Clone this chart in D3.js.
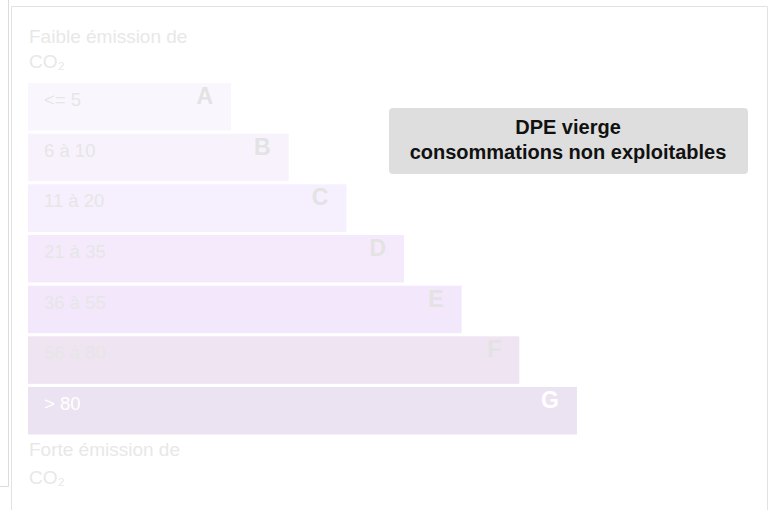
<!DOCTYPE html>
<html>
<head>
<meta charset="utf-8">
<script src="https://cdn.jsdelivr.net/npm/d3@7"></script>
<style>
  body { margin: 0; background: #fff; }
  svg { display: block; font-family: "Liberation Sans", Arial, Helvetica, sans-serif; }
</style>
</head>
<body>
<div id="chart-container"></div>
<script>
// GES classes (faded: DPE vierge)
const classes = ['A', 'B', 'C', 'D', 'E', 'F', 'G'];
const ranges = ['<= 5', '6 à 10', '11 à 20', '21 à 35', '36 à 55', '56 à 80', '> 80'];
const barRank = [1, 2, 3, 4, 5, 6, 7];
const barColors = ['#faf6fe', '#f8f2fd', '#f6effd', '#f5eafc', '#f3e7fc', '#efe4f2', '#ebe3f1'];
const labelColors = ['#e6e6e6', '#e6e6e6', '#e6e6e6', '#e6e6e6', '#e6e6e6', '#e6e6e6', '#ffffff'];
const headerLines = ['Faible émission de', 'CO₂'];
const footerLines = ['Forte émission de', 'CO₂'];
const messageLines = ['DPE vierge', 'consommations non exploitables'];

const width = 769, height = 510;
const svg = d3.select('#chart-container')
    .append('svg')
    .attr('width', width)
    .attr('height', height);

// panel borders
svg.append('path')
    .attr('d', 'M8.5,0 V486.5 H0')
    .attr('fill', 'none')
    .attr('stroke', '#dcdcdc');
svg.append('path')
    .attr('d', 'M11.5,510 V6.5 H767.5 V510')
    .attr('fill', 'none')
    .attr('stroke', '#e2e2e2');

const x = d3.scaleLinear()
    .domain([1, 7])
    .range([231, 577]);

const y = d3.scaleBand()
    .domain(classes)
    .range([83, 434.5])
    .paddingInner(0.0625)
    .paddingOuter(0);

const barLeft = 28;

const rows = svg.append('g')
    .selectAll('g')
    .data(classes)
    .enter()
    .append('g')
    .attr('transform', d => `translate(0,${y(d)})`);

rows.append('rect')
    .attr('x', barLeft)
    .attr('y', 0)
    .attr('width', (d, i) => x(barRank[i]) - barLeft)
    .attr('height', y.bandwidth())
    .attr('fill', (d, i) => barColors[i]);

rows.append('text')
    .attr('x', 44)
    .attr('y', 23)
    .style('font-size', '18.5px')
    .style('fill', (d, i) => labelColors[i])
    .text((d, i) => ranges[i]);

rows.append('text')
    .attr('x', (d, i) => x(barRank[i]) - 18)
    .attr('y', 21)
    .attr('text-anchor', 'end')
    .style('font-size', '23px')
    .style('font-weight', 'bold')
    .style('fill', (d, i) => i === 6 ? '#ffffff' : '#e3e3e3')
    .text(d => d);

// header / footer
svg.append('g')
    .selectAll('text')
    .data(headerLines)
    .enter()
    .append('text')
    .attr('x', 29)
    .attr('y', (d, i) => 43 + i * 25)
    .style('font-size', '19px')
    .style('fill', '#e8e8e8')
    .text(d => d);

svg.append('g')
    .selectAll('text')
    .data(footerLines)
    .enter()
    .append('text')
    .attr('x', 29)
    .attr('y', (d, i) => 456 + i * 28)
    .style('font-size', '19px')
    .style('fill', '#e8e8e8')
    .text(d => d);

// message box
const box = svg.append('g');
box.append('rect')
    .attr('x', 389)
    .attr('y', 108)
    .attr('width', 359)
    .attr('height', 66)
    .attr('rx', 4)
    .attr('fill', '#dedede');
box.selectAll('text')
    .data(messageLines)
    .enter()
    .append('text')
    .attr('x', 568)
    .attr('y', (d, i) => 134 + i * 25)
    .attr('text-anchor', 'middle')
    .style('font-size', '20px')
    .style('font-weight', 'bold')
    .style('fill', '#111')
    .text(d => d);
</script>
</body>
</html>
